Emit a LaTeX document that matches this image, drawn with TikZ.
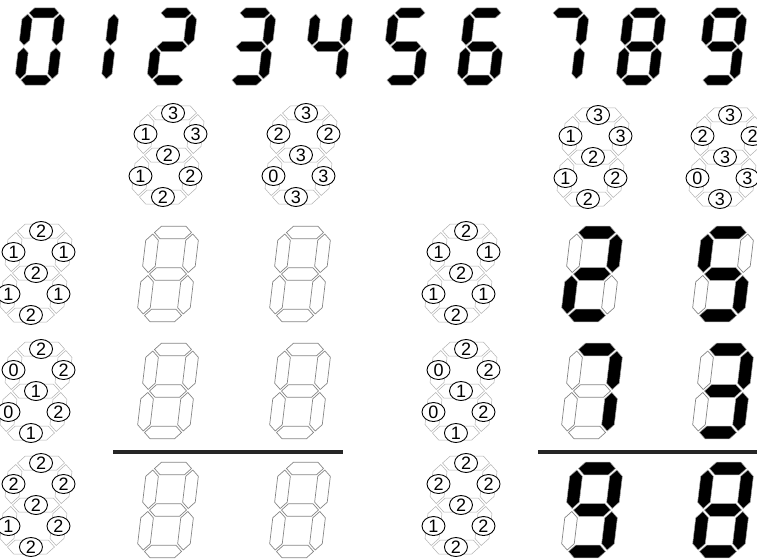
\documentclass[tikz,border=0pt]{standalone}
\usepackage{fontspec}
\setmainfont{Liberation Sans}
\usetikzlibrary{shapes.geometric}
\def\sw{20}\def\sh{41.5}\def\sr{6.3}\def\sg{1.5}
\newcommand{\hseg}[2]{\path[#1] ({-\sw+\sg},{#2}) -- ({-\sw+\sg+\sr},{#2-\sr}) -- ({\sw-\sg-\sr},{#2-\sr}) -- ({\sw-\sg},{#2}) -- ({\sw-\sg-\sr},{#2+\sr}) -- ({-\sw+\sg+\sr},{#2+\sr}) -- cycle;}
\newcommand{\vseg}[4]{\path[#1] ({#2},{#3}) -- ({#2+\sr},{#3+\sr}) -- ({#2+\sr},{#4-\sr}) -- ({#2},{#4}) -- ({#2-\sr},{#4-\sr}) -- ({#2-\sr},{#3+\sr}) -- cycle;}
\newcommand{\allsegs}[7]{%
  \hseg{#1}{-\sh}
  \vseg{#2}{\sw}{-\sh+\sg}{-\sg}
  \vseg{#3}{\sw}{\sg}{\sh-\sg}
  \hseg{#4}{\sh}
  \vseg{#5}{-\sw}{\sg}{\sh-\sg}
  \vseg{#6}{-\sw}{-\sh+\sg}{-\sg}
  \hseg{#7}{0}}

\begin{document}
\begin{tikzpicture}[x=1pt, y=-1pt,
  seg1/.style={fill=black, draw=gray!70, line width=.5pt},
  seg0/.style={fill=white, draw=gray!95, line width=.7pt},
  ghost/.style={fill=white, draw=gray!60, line width=.5pt},
  num/.style={draw, ellipse, fill=white, inner sep=0pt, minimum width=23pt, minimum height=19pt, line width=.9pt, font=\fontsize{18}{18}\selectfont},
  sumline/.style={draw=black!85, line width=4.5pt},
  pics/digit/.style args={#1#2#3#4#5#6#7}{code={
    \begin{scope}[xslant=.12]
      \allsegs{seg#1}{seg#2}{seg#3}{seg#4}{seg#5}{seg#6}{seg#7}
    \end{scope}}},
  pics/hint/.style args={#1#2#3#4#5#6#7}{code={
    \def\sw{25}\def\sh{42}\def\sr{7}
    \begin{scope}[xslant=.12]
      \allsegs{ghost}{ghost}{ghost}{ghost}{ghost}{ghost}{ghost}
      \node[num] (-a) at (0,-\sh) {#1};
      \node[num] (-b) at (\sw,-\sh/2) {#2};
      \node[num] (-c) at (\sw,\sh/2) {#3};
      \node[num] (-d) at (0,\sh) {#4};
      \node[num] (-e) at (-\sw,\sh/2) {#5};
      \node[num] (-f) at (-\sw,-\sh/2) {#6};
      \node[num] (-g) at (0,0) {#7};
    \end{scope}}}]
  \useasboundingbox (0,0) rectangle (757,559);

  \begin{scope}[seg0/.style={draw=none}]
    \pic[scale=.81] (top0) at (40,46.5) {digit=1111110};
    \pic[scale=.81] (top1) at (94,46.5) {digit=0110000};
    \pic[scale=.81] (top2) at (172,46.5) {digit=1101101};
    \pic[scale=.81] (top3) at (251,46.5) {digit=1111001};
    \pic[scale=.81] (top4) at (328,46.5) {digit=0110011};
    \pic[scale=.81] (top5) at (406,46.5) {digit=1011011};
    \pic[scale=.81] (top6) at (482,46.5) {digit=1011111};
    \pic[scale=.81] (top7) at (564,46.5) {digit=1110000};
    \pic[scale=.81] (top8) at (641,46.5) {digit=1111111};
    \pic[scale=.81] (top9) at (722,46.5) {digit=1111011};
  \end{scope}

  \pic (colA) at (168,155) {hint=3322112};
  \pic (colB) at (301,155) {hint=3233023};
  \pic (colC) at (593,157) {hint=3322112};
  \pic (colD) at (725,157) {hint=3233023};

  \pic (rowA) at (36,273) {hint=2112112};
  \pic (rowB) at (36,391) {hint=2221001};
  \pic (rowC) at (36,505) {hint=2222122};
  \pic (rowD) at (461,273) {hint=2112112};
  \pic (rowE) at (461,391) {hint=2221001};
  \pic (rowF) at (461,505) {hint=2222122};

  \pic (qa1) at (168,274) {digit=0000000};
  \pic (qa2) at (300,274) {digit=0000000};
  \pic (qb1) at (168,391) {digit=0000000};
  \pic (qb2) at (300,391) {digit=0000000};
  \pic (qc1) at (168,510) {digit=0000000};
  \pic (qc2) at (300,510) {digit=0000000};

  \pic (sa1) at (592,274) {digit=1101101};
  \pic (sa2) at (723,274) {digit=1011011};
  \pic (sb1) at (592,391) {digit=1110000};
  \pic (sb2) at (723,391) {digit=1111001};
  \pic (sc1) at (592,510) {digit=1111011};
  \pic (sc2) at (723,510) {digit=1111111};

  \draw[sumline] (113,452) -- (343,452);
  \draw[sumline] (538,452) -- (757,452);
\end{tikzpicture}
\end{document}
